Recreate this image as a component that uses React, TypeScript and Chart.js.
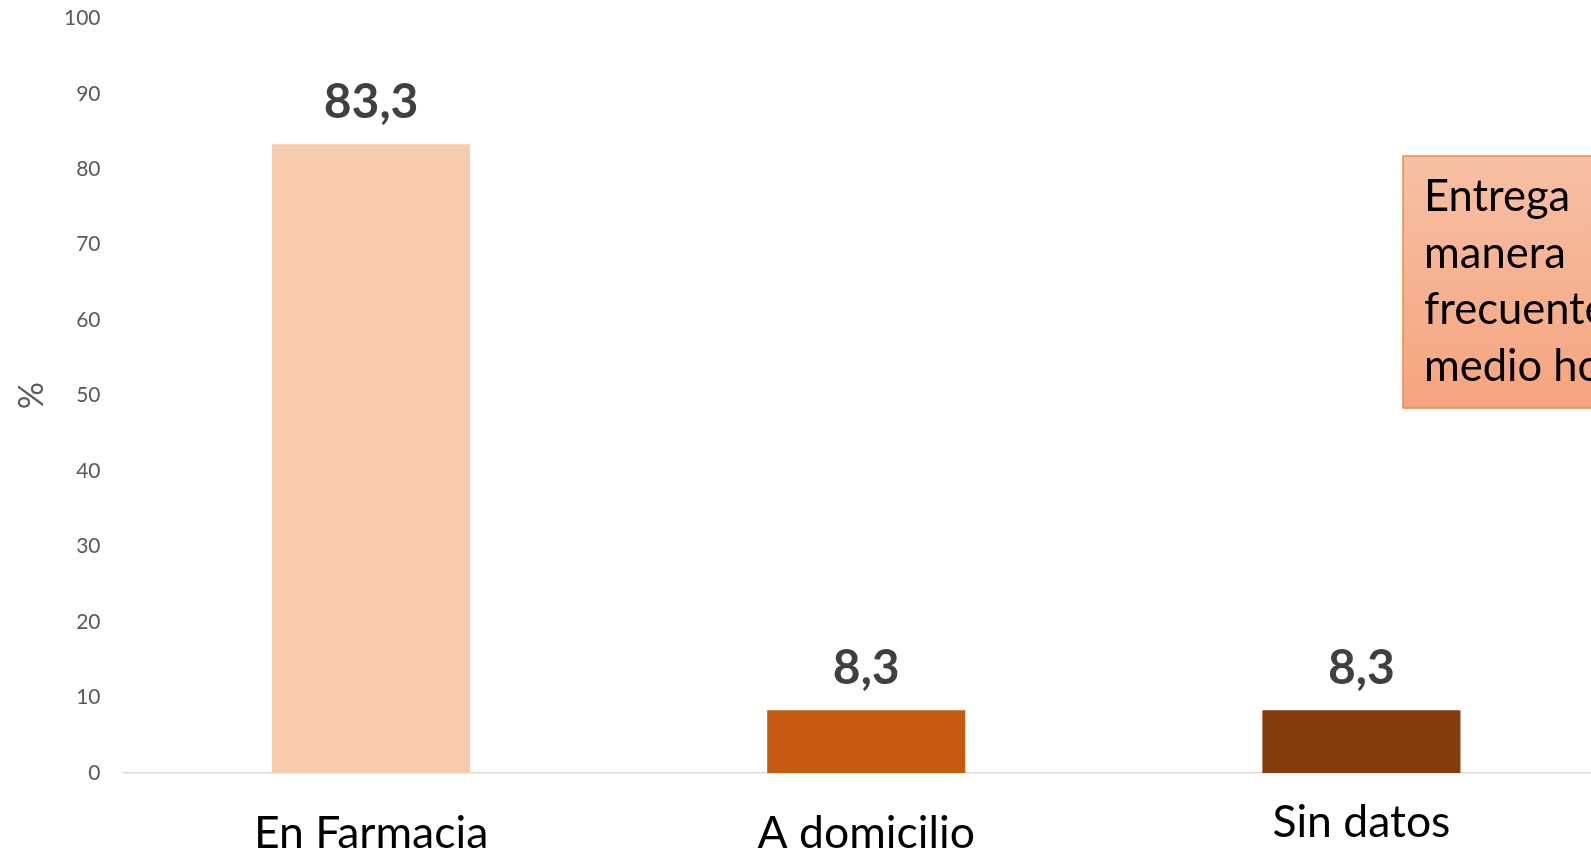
import React, { useEffect, useRef } from "react";
import { Chart, registerables } from "chart.js";

Chart.register(...registerables);

const categories = ["En Farmacia", "A domicilio", "Sin datos"];
const values = [83.3, 8.3, 8.3];
const valueLabels = ["83,3", "8,3", "8,3"];
const barColors = ["#F8CBAD", "#C55A11", "#843C0C"];
const yTicks = [0, 10, 20, 30, 40, 50, 60, 70, 80, 90, 100];
const noteLines = ["Entrega", "manera", "frecuente", "medio hospitalario"];

const FONT = "Lato, 'Open Sans', sans-serif";
// baseline distance below the plot bottom for each category label
const xLabelDrop = [75, 75, 64];

const valueLabelPlugin = {
  id: "valueLabels",
  afterDatasetsDraw(chart: any) {
    const { ctx } = chart;
    const meta = chart.getDatasetMeta(0);
    ctx.save();
    ctx.font = `bold 48px ${FONT}`;
    ctx.fillStyle = "#404040";
    ctx.textAlign = "center";
    ctx.textBaseline = "alphabetic";
    meta.data.forEach((bar: any, i: number) => {
      ctx.fillText(valueLabels[i], bar.x, bar.y - 26);
    });
    ctx.restore();
  },
};

const xLabelPlugin = {
  id: "xLabels",
  afterDraw(chart: any) {
    const { ctx, chartArea } = chart;
    const xScale = chart.scales.x;
    ctx.save();
    ctx.font = `44.5px ${FONT}`;
    ctx.fillStyle = "#000000";
    ctx.textAlign = "center";
    ctx.textBaseline = "alphabetic";
    categories.forEach((c, i) => {
      ctx.fillText(c, xScale.getPixelForValue(i), chartArea.bottom + xLabelDrop[i]);
    });
    ctx.restore();
  },
};

const notePlugin = {
  id: "noteBox",
  afterDraw(chart: any) {
    const { ctx } = chart;
    const x = 1403;
    const y = 156;
    const w = 260;
    const h = 252;
    ctx.save();
    const g = ctx.createLinearGradient(0, y, 0, y + h);
    g.addColorStop(0, "#F7C0A4");
    g.addColorStop(1, "#F5A47E");
    ctx.fillStyle = g;
    ctx.fillRect(x, y, w, h);
    ctx.strokeStyle = "#F58A47";
    ctx.lineWidth = 1.5;
    ctx.strokeRect(x, y, w, h);
    ctx.font = `43.5px ${FONT}`;
    ctx.fillStyle = "#000000";
    ctx.textAlign = "left";
    ctx.textBaseline = "alphabetic";
    noteLines.forEach((t, i) => {
      ctx.fillText(t, 1424, 211 + i * 56.5);
    });
    ctx.restore();
  },
};

export default function App() {
  const ref = useRef<HTMLCanvasElement | null>(null);

  useEffect(() => {
    if (!ref.current) return;
    const chart = new Chart(ref.current, {
      type: "bar",
      data: {
        labels: categories,
        datasets: [
          {
            data: values,
            backgroundColor: barColors,
            borderWidth: 0,
            barPercentage: 0.4,
            categoryPercentage: 1,
          },
        ],
      },
      options: {
        responsive: false,
        animation: false,
        maintainAspectRatio: false,
        layout: { padding: { top: 18.3, right: 0, left: 0, bottom: 0 } },
        plugins: {
          legend: { display: false },
          tooltip: { enabled: false },
        },
        scales: {
          x: {
            grid: { display: false, drawTicks: false },
            border: { display: true, color: "#D9D9D9", width: 1.5 },
            ticks: { display: false },
            afterFit: (scale: any) => {
              scale.height = 83;
            },
          },
          y: {
            min: 0,
            max: 100,
            afterBuildTicks: (scale: any) => {
              scale.ticks = yTicks.map((v) => ({ value: v }));
            },
            grid: { display: false, drawTicks: true, tickLength: 20 },
            border: { display: false },
            ticks: {
              padding: 3,
              color: "#595959",
              font: { family: FONT, size: 21 },
            },
            title: {
              display: true,
              text: "%",
              color: "#595959",
              font: { family: FONT, size: 34 },
              padding: { top: 12, bottom: 0 },
            },
            afterFit: (scale: any) => {
              scale.width = 123.5;
            },
          },
        },
      },
      plugins: [valueLabelPlugin, xLabelPlugin, notePlugin],
    });
    return () => chart.destroy();
  }, []);

  return (
    <div
      style={{
        position: "fixed",
        left: 0,
        top: 0,
        width: 1591,
        height: 856,
        overflow: "hidden",
        background: "#ffffff",
      }}
    >
      <canvas ref={ref} width={1609} height={856} style={{ display: "block" }} />
    </div>
  );
}
